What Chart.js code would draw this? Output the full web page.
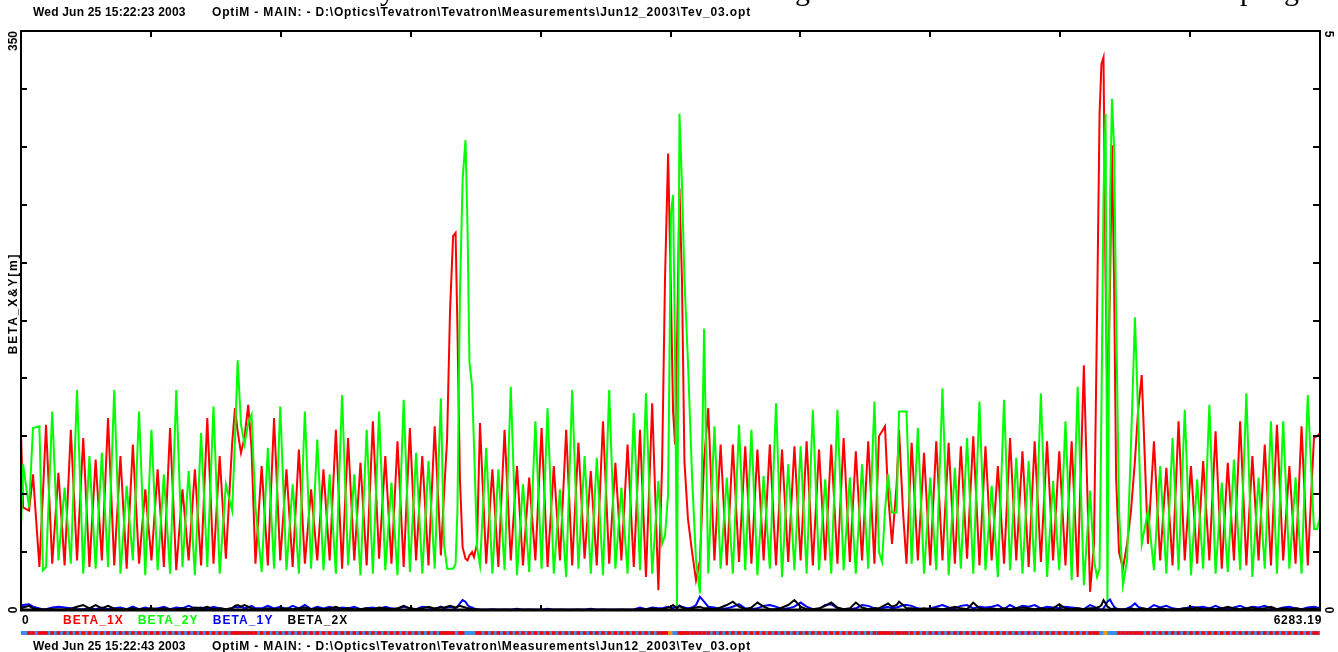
<!DOCTYPE html>
<html>
<head>
<meta charset="utf-8">
<script src="https://cdn.jsdelivr.net/npm/chart.js@4.4.1/dist/chart.umd.min.js"></script>
<style>
  html, body { margin: 0; padding: 0; background: #fff; width: 1338px; height: 652px; overflow: hidden; }
  #wrap { position: relative; width: 1338px; height: 652px; overflow: hidden; }
  canvas { position: absolute; left: 0; }
  .txt { position: absolute; font-family: "Liberation Sans", Arial, sans-serif; font-weight: bold;
         white-space: pre; color: #000; font-size: 12px; letter-spacing: 0.2px; line-height: 14px; }
  .path { letter-spacing: 0.84px; }
  .cut { position: absolute; top: -25px; font-family: "Liberation Serif", "Times New Roman", serif;
         font-size: 30px; line-height: 30px; color: #000; }
</style>
</head>
<body>
<div id="wrap">
  <canvas id="optics" width="1338" height="652" style="top:0"></canvas>
  <canvas id="lattice" width="1338" height="12" style="top:627px"></canvas>
  <div class="cut" style="left:380px;">y</div>
  <div class="cut" style="left:795px;">g</div>
  <div class="cut" style="left:1240px;">p</div>
  <div class="cut" style="left:1284px;">g</div>
  <div class="txt" id="hdrDate" style="left:33px; top:5px;"></div>
  <div class="txt path" id="hdrPath" style="left:212px; top:5px;"></div>
  <div class="txt" id="ftrDate" style="left:33px; top:639px;"></div>
  <div class="txt path" id="ftrPath" style="left:212px; top:639px;"></div>
</div>
<script>
// ---- run stamps -------------------------------------------------------------
const headerDate = "Wed Jun 25 15:22:23 2003";
const footerDate = "Wed Jun 25 15:22:43 2003";
const runPath = "OptiM - MAIN: - D:\\Optics\\Tevatron\\Tevatron\\Measurements\\Jun12_2003\\Tev_03.opt";

// ---- axes -------------------------------------------------------------------
const sMax = 6283.19;
const xTicks  = [0, 628.319, 1256.638, 1884.957, 2513.276, 3141.595, 3769.914, 4398.233, 5026.552, 5654.871, 6283.19];
const yTicks  = [0, 35, 70, 105, 140, 175, 210, 245, 280, 315, 350];
const y2Ticks = [0, 0.5, 1, 1.5, 2, 2.5, 3, 3.5, 4, 4.5, 5];
const xLabels = ["0", "6283.19"];
const yLabels = ["0", "350"];
const y2Labels = ["0", "5"];
const yTitle = "BETA_X&Y[m]";

// ---- lattice positions s [m] ------------------------------------------------
const sPos = [
  0, 10, 39, 58, 89, 106,
  121, 151, 181, 211, 241, 271, 301, 331, 361, 391, 421, 451, 481, 511, 541,
  571, 601, 631, 661, 691, 721, 751, 781, 811, 841, 871, 901, 931, 961, 991,
  1021, 1035, 1048, 1064, 1081, 1099, 1115, 1134,
  1164, 1194, 1224, 1254, 1284, 1314, 1344, 1373, 1403, 1433, 1463, 1493, 1523, 1553, 1582,
  1612, 1642, 1672, 1702, 1732, 1762, 1792, 1821, 1851, 1881, 1911, 1941, 1971, 2001, 2031,
  2046, 2061, 2075, 2090, 2102, 2111, 2123, 2136, 2150, 2160, 2169, 2182, 2191, 2206,
  2220, 2250, 2280, 2309, 2339, 2369, 2399, 2428, 2458, 2488, 2518, 2547, 2577, 2607, 2637,
  2666, 2696, 2726, 2756, 2785, 2815, 2845, 2875, 2904, 2934, 2964, 2994, 3023, 3053, 3083,
  3101, 3115, 3130, 3144, 3154, 3164, 3173, 3185, 3197, 3209, 3226, 3246, 3265, 3284, 3304,
  3324, 3354, 3384, 3414, 3443, 3473, 3503, 3533, 3562, 3592, 3622, 3652, 3681, 3711,
  3741, 3771, 3800, 3830, 3860, 3890, 3919, 3949, 3979, 4009, 4038, 4068, 4098, 4128,
  4150, 4165, 4179, 4194, 4213, 4235, 4247, 4266, 4283,
  4308, 4338, 4368, 4398, 4427, 4457, 4487, 4517, 4546, 4576, 4606, 4636, 4665, 4695, 4725,
  4755, 4784, 4814, 4844, 4874, 4903, 4933, 4963, 4992, 5022, 5052, 5082, 5111, 5141, 5171,
  5190, 5205, 5217, 5226, 5236, 5246, 5255, 5268, 5277, 5287, 5297, 5311, 5330, 5350, 5369,
  5388, 5403, 5421, 5451,
  5480, 5510, 5540, 5570, 5599, 5629, 5659, 5689, 5718, 5748, 5778, 5808, 5837, 5867,
  5897, 5927, 5956, 5986, 6016, 6046, 6075, 6105, 6135, 6165, 6194, 6224, 6254,
  6269, 6283.19
];

// ---- beta functions [m] -----------------------------------------------------
const beta1X = [
  107, 62, 60, 82, 26, 70,
  112, 28, 83, 27, 109, 30, 104, 26, 91, 30, 116, 27, 93, 25, 100,
  28, 73, 30, 85, 26, 110, 24, 73, 30, 85, 27, 116, 28, 93, 31,
  100, 122, 108, 95, 104, 124, 98, 28,
  87, 27, 116, 30, 85, 26, 97, 28, 73, 30, 85, 30, 109, 25, 104,
  30, 89, 27, 114, 31, 93, 28, 102, 26, 110, 30, 93, 27, 111, 33,
  70, 103, 180, 226, 228, 170, 80, 38, 31, 30, 33, 35, 32, 40,
  113, 28, 85, 26, 109, 30, 87, 27, 80, 30, 110, 26, 87, 30, 109,
  27, 101, 31, 84, 27, 114, 28, 89, 30, 100, 26, 109, 20, 125, 12,
  88, 200, 276, 190, 120, 100, 160, 255, 200, 90, 55, 35, 18, 30, 90,
  122, 30, 100, 27, 100, 29, 99, 28, 97, 30, 100, 27, 97, 29,
  99, 30, 102, 27, 97, 30, 100, 28, 104, 29, 96, 30, 102, 28,
  105, 108, 111, 70, 40, 75, 109, 60, 28,
  101, 30, 95, 27, 102, 30, 101, 28, 99, 31, 105, 27, 99, 30, 87,
  28, 104, 30, 96, 26, 102, 29, 102, 30, 96, 27, 102, 20, 148, 11,
  40, 180, 300, 330, 334, 200, 120, 200, 281, 200, 80, 35, 25, 40, 60,
  90, 120, 142, 40,
  102, 30, 86, 27, 114, 30, 87, 28, 90, 30, 108, 25, 89, 30,
  114, 27, 93, 30, 100, 27, 112, 30, 87, 28, 111, 27, 104,
  105, 107
];
const beta2Y = [
  50, 88, 62, 110, 111, 24,
  26, 120, 30, 74, 28, 133, 22, 93, 25, 95, 26, 133, 22, 75, 30,
  120, 21, 109, 24, 82, 22, 133, 26, 84, 21, 107, 26, 123, 22, 76,
  60, 103, 151, 112, 100, 113, 118, 62,
  23, 98, 25, 123, 24, 76, 22, 120, 25, 103, 24, 82, 22, 130, 27,
  82, 21, 109, 22, 120, 24, 77, 21, 127, 23, 95, 22, 90, 25, 128,
  40, 25, 25, 25, 28, 60, 190, 260, 284, 230, 150, 135, 100, 38,
  27, 98, 22, 85, 24, 135, 21, 76, 23, 114, 25, 122, 22, 73, 20,
  133, 25, 93, 22, 92, 21, 133, 25, 74, 22, 119, 24, 131, 22, 78,
  40, 45, 70, 240, 251, 150, 2, 300, 258, 200, 150, 80, 30, 10, 170,
  22, 111, 25, 80, 22, 112, 24, 109, 21, 81, 25, 125, 20, 88,
  24, 99, 22, 121, 24, 79, 22, 121, 24, 80, 22, 88, 25, 126,
  35, 29, 60, 82, 59, 59, 120, 120, 120,
  28, 110, 22, 80, 24, 134, 21, 86, 25, 104, 22, 126, 24, 75, 20,
  127, 24, 92, 22, 90, 23, 131, 20, 78, 24, 114, 18, 135, 15, 72,
  30, 20, 25, 120, 250, 300, 5, 250, 309, 280, 180, 60, 15, 30, 100,
  177, 120, 40, 60,
  24, 87, 22, 104, 24, 121, 21, 79, 25, 124, 22, 77, 23, 91,
  24, 131, 20, 80, 25, 114, 22, 114, 25, 80, 22, 130, 49,
  49, 56
];
const beta1Y = [
  1, 3, 3.5, 2, 1, 0.5,
  0.5, 1.5, 2, 1.5, 1, 0.5, 0.5, 1, 0.5, 1.5, 0.5, 1, 1.5, 0.5, 2,
  0.5, 1.5, 0.5, 1, 2, 0.5, 1.5, 1, 2.5, 1, 1.5, 0.5, 2, 1, 0.5,
  1, 2, 1.5, 2, 1, 1.5, 2.5, 1,
  1, 2.5, 1, 2, 0.5, 2.5, 1, 3, 0.5, 2, 1, 2, 0.5, 1.5, 1,
  2, 0.5, 1, 1.5, 0.5, 2, 1, 0.5, 2, 1, 0.5, 2, 1.5, 0.5, 2,
  1, 1.5, 2, 1.5, 1, 2, 4, 6, 5, 3, 2, 1.5, 1, 0.5,
  0.3, 0.2, 0.5, 0.2, 0.3, 0.2, 0.8, 0.2, 0.3, 0.2, 0.2, 0.8, 0.2, 0.3, 0.2,
  0.2, 0.3, 0.2, 0.8, 0.2, 0.3, 0.2, 0.2, 0.3, 0.2, 0.3, 1.5, 0.5, 1.5, 1,
  1, 1.5, 2, 1.5, 1, 2, 1.5, 2.5, 2, 1.5, 1, 1.5, 3, 8, 5,
  2, 1.5, 0.5, 1, 2, 3.5, 1, 0.5, 1, 2.5, 3, 2, 0.5, 1,
  2, 4.5, 2, 0.5, 0.5, 3, 3.5, 1, 0.5, 0.5, 1, 3, 2.5, 1,
  0.5, 1, 1.5, 2, 1, 1.5, 2, 3, 3,
  2.5, 1, 0.5, 1, 2, 3, 1.5, 1, 2.5, 3, 1, 2, 1.5, 2, 3,
  0.5, 3, 1, 2.5, 2, 3, 1, 2, 1.5, 1, 2, 1.5, 1, 0.5, 3,
  2, 1, 0.5, 0.3, 1, 3, 5, 6.3, 4, 2, 1, 0.5, 0.3, 1, 2,
  4, 2, 1, 0.5,
  3, 1.5, 2.5, 1, 0.5, 1, 2, 1.5, 2, 1, 2.5, 1, 0.5, 1.5,
  2.5, 1, 2, 1.5, 2.5, 1, 0.5, 1.5, 2, 1, 0.5, 1.5, 2,
  1.5, 1
];
const beta2X = [
  0.5, 1.5, 2.5, 1, 0.5, 0.3,
  0.3, 0.5, 0.3, 0.5, 0.8, 2, 3, 1, 3, 1, 2.5, 0.8, 0.5, 0.5, 1,
  0.5, 0.5, 1, 0.5, 1, 0.5, 0.5, 1, 0.5, 1.5, 1, 2, 0.5, 1, 0.5,
  1, 2.5, 3, 2, 3, 2, 1, 0.5,
  0.5, 1, 0.5, 0.5, 1, 0.5, 1, 1.5, 0.5, 1, 0.5, 1, 2, 0.5, 1,
  0.5, 0.5, 1, 0.5, 1.5, 1, 0.5, 1, 2.5, 1, 0.5, 1, 2, 1, 1.5,
  1.5, 2, 2.5, 2, 1.5, 2, 2.5, 2, 1.5, 1, 1, 0.5, 0.5, 0.3,
  0.1, 0.2, 0.1, 0.1, 0.2, 0.1, 0.1, 0.2, 0.1, 0.1, 0.2, 0.1, 0.1, 0.1, 0.2,
  0.1, 0.1, 0.2, 0.1, 0.1, 0.1, 0.2, 0.1, 0.1, 0.2, 0.1, 0.5, 0.3, 1, 0.5,
  0.5, 1, 1.5, 2, 3, 2, 1, 2.5, 1.5, 1, 0.5, 1, 1.5, 2, 1,
  1, 0.5, 1.5, 3, 5, 2, 0.5, 1.5, 4.5, 2, 0.5, 0.5, 1.5, 3,
  6, 2, 0.5, 0.5, 1, 2.5, 4.5, 1.5, 0.5, 1, 4.5, 1.5, 0.5, 1,
  1, 2, 3, 4, 2, 3, 5, 3, 1,
  1, 0.5, 1, 0.5, 1, 0.5, 1, 2, 1, 0.5, 4.5, 1, 0.5, 1, 0.5,
  1, 0.5, 1, 1.5, 1, 0.5, 1, 0.5, 1, 3.5, 1, 0.5, 1, 0.5, 1,
  1, 1.5, 2, 3, 6, 4, 2, 1, 0.5, 1, 0.5, 0.5, 0.3, 0.5, 1,
  0.5, 0.5, 1, 0.5,
  0.5, 1, 0.5, 0.3, 0.5, 1, 0.5, 1.5, 0.5, 1, 0.5, 1, 2, 1,
  0.5, 1, 1.5, 0.5, 1, 2, 0.5, 1, 0.5, 1, 0.5, 0.5, 1,
  0.5, 0.3
];

// interaction-region markers in the element strip [m]
const irS = [3140, 5245];

const seriesNames  = ["BETA_1X", "BETA_2Y", "BETA_1Y", "BETA_2X"];
const seriesColors = ["#ff0000", "#00ff00", "#0000ff", "#000000"];

document.getElementById("hdrDate").textContent = headerDate;
document.getElementById("hdrPath").textContent = runPath;
document.getElementById("ftrDate").textContent = footerDate;
document.getElementById("ftrPath").textContent = runPath;

const pts = vals => sPos.map((s, i) => ({ x: s, y: vals[i] }));
const FONT = '"Liberation Sans", Arial, sans-serif';

// frame, inward ticks, end labels, axis title and legend
const framePlugin = {
  id: "optimFrame",
  afterDatasetsDraw(chart) {
    const { ctx, chartArea: a } = chart;
    const xs = chart.scales.x, ys = chart.scales.y, y2 = chart.scales.y2;
    const seg = (x1, y1, x2, y2_, w) => {
      ctx.lineWidth = w; ctx.beginPath(); ctx.moveTo(x1, y1); ctx.lineTo(x2, y2_); ctx.stroke();
    };
    ctx.save();
    ctx.strokeStyle = "#000";
    seg(a.left - 1, a.top, a.right + 1, a.top, 2);
    seg(a.left, a.top, a.left, a.bottom + 1, 2);
    seg(a.right, a.top, a.right, a.bottom + 1, 2);
    seg(a.left - 1, a.bottom, a.right + 1, a.bottom, 3);
    yTicks.forEach(v => { const p = Math.round(ys.getPixelForValue(v)); seg(a.left, p, a.left + 6, p, 2); });
    y2Ticks.forEach(v => { const p = Math.round(y2.getPixelForValue(v)); seg(a.right - 7, p, a.right, p, 2); });
    xTicks.forEach(v => {
      const p = Math.round(xs.getPixelForValue(v));
      seg(p, a.top, p, a.top + 6, 2);
      seg(p, a.bottom, p, a.bottom - 5, 2);
    });

    ctx.fillStyle = "#000";
    ctx.font = "bold 12px " + FONT;
    ctx.textBaseline = "middle";
    const rot = (txt, x, y, ang, align, spacing) => {
      ctx.save(); ctx.translate(x, y); ctx.rotate(ang);
      ctx.textAlign = align; ctx.letterSpacing = spacing || "0px";
      ctx.fillText(txt, 0, 0); ctx.restore();
    };
    rot(yLabels[1], 14, ys.getPixelForValue(350), -Math.PI / 2, "right");
    rot(yLabels[0], 14, ys.getPixelForValue(0), -Math.PI / 2, "center");
    rot(yTitle, 14, ys.getPixelForValue(175) - 17, -Math.PI / 2, "center", "1.8px");
    rot(y2Labels[1], 1328, y2.getPixelForValue(5) + 3, Math.PI / 2, "center");
    rot(y2Labels[0], 1328, y2.getPixelForValue(0), Math.PI / 2, "center");

    ctx.letterSpacing = "0.7px";
    ctx.textAlign = "left";
    ctx.fillText(xLabels[0], xs.getPixelForValue(0) + 1, 621);
    ctx.textAlign = "right";
    ctx.fillText(xLabels[1], xs.getPixelForValue(sMax) + 2, 621);

    // legend
    ctx.letterSpacing = "1.1px";
    ctx.textAlign = "left";
    let lx = 63;
    chart.data.datasets.forEach(ds => {
      ctx.fillStyle = ds.borderColor;
      ctx.fillText(ds.label, lx, 621);
      lx += ctx.measureText(ds.label).width + 14;
    });
    ctx.restore();
  }
};

const lineSet = (i, vals, order) => ({
  label: seriesNames[i], data: pts(vals), borderColor: seriesColors[i],
  backgroundColor: seriesColors[i], borderWidth: 2, pointRadius: 0, tension: 0,
  fill: false, order: order, yAxisID: "y"
});

new Chart(document.getElementById("optics"), {
  type: "line",
  data: {
    datasets: [
      lineSet(0, beta1X, 4),
      lineSet(1, beta2Y, 3),
      lineSet(2, beta1Y, 2),
      lineSet(3, beta2X, 1)
    ]
  },
  options: {
    responsive: false, animation: false, devicePixelRatio: 1,
    layout: { padding: { left: 21, right: 18, top: 31, bottom: 42 } },
    plugins: { legend: { display: false }, tooltip: { enabled: false } },
    scales: {
      x:  { type: "linear", min: 0, max: sMax, display: false },
      y:  { type: "linear", min: 0, max: 350, display: false },
      y2: { type: "linear", min: 0, max: 5, display: false, position: "right" }
    }
  },
  plugins: [framePlugin]
});

// lattice element strip: quadrupole markers at the lattice positions
const quadS = sPos.filter((s, i) => i > 0 && i < sPos.length - 1 &&
  s - sPos[i - 1] > 10 && sPos[i + 1] - s > 10);
new Chart(document.getElementById("lattice"), {
  type: "scatter",
  data: {
    datasets: [
      { data: irS.map(s => ({ x: s, y: 0.5 })), pointStyle: "rect", pointRadius: 3,
        backgroundColor: "#e8a000", borderWidth: 0, order: 0 },
      { data: quadS.map(s => ({ x: s, y: 0.5 })), pointStyle: "rect", pointRadius: 2.5,
        backgroundColor: "#ff0000", borderWidth: 0, order: 1 },
      { data: [{ x: 0, y: 0.5 }, { x: sMax, y: 0.5 }], showLine: true, borderColor: "#3b8ef0",
        borderWidth: 6, pointRadius: 0, order: 2 }
    ]
  },
  options: {
    responsive: false, animation: false, devicePixelRatio: 1,
    layout: { padding: { left: 21, right: 18, top: 0, bottom: 0 } },
    plugins: { legend: { display: false }, tooltip: { enabled: false } },
    scales: {
      x: { type: "linear", min: 0, max: sMax, display: false },
      y: { type: "linear", min: 0, max: 1, display: false }
    }
  }
});
</script>
</body>
</html>
